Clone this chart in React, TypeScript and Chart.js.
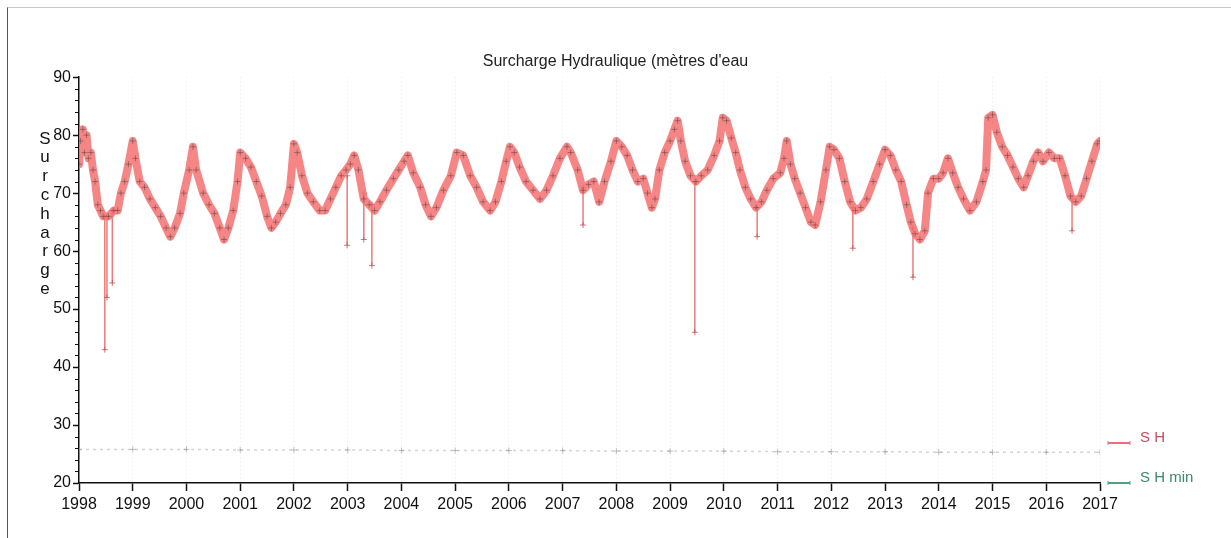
import { useEffect, useRef } from "react";
import { Chart, registerables } from "chart.js";

Chart.register(...registerables);

const titleText = "Surcharge Hydraulique (mètres d'eau";
const yAxisLetters = ["S", "u", "r", "c", "h", "a", "r", "g", "e"];
const legendLabels = ["S H", "S H min"];
const legendTextColors = ["#c0505e", "#3b8a6a"];
const legendLineColors = ["#e8707a", "#4f9f80"];

const xTickYears = [1998, 1999, 2000, 2001, 2002, 2003, 2004, 2005, 2006, 2007, 2008, 2009, 2010, 2011, 2012, 2013, 2014, 2015, 2016, 2017];
const yTickValues = [20, 30, 40, 50, 60, 70, 80, 90];

const shYears = [
  1998.0, 1998.03, 1998.07, 1998.1, 1998.14, 1998.18, 1998.22, 1998.26, 1998.3, 1998.35, 1998.4, 1998.45, 1998.55, 1998.65, 1998.72, 1998.78, 1998.85, 1998.92,
  1999.0, 1999.05, 1999.13, 1999.22, 1999.32, 1999.42, 1999.52, 1999.62, 1999.7, 1999.78, 1999.88, 1999.95,
  2000.05, 2000.12, 2000.18, 2000.31, 2000.42, 2000.52, 2000.62, 2000.7, 2000.78, 2000.87, 2000.95,
  2001.0, 2001.1, 2001.2, 2001.3, 2001.4, 2001.5, 2001.58, 2001.66, 2001.75, 2001.85, 2001.93,
  2002.0, 2002.06, 2002.15, 2002.25, 2002.36, 2002.48, 2002.58, 2002.68, 2002.78, 2002.88, 2002.97,
  2003.05, 2003.12, 2003.2, 2003.3, 2003.4, 2003.5, 2003.6, 2003.72, 2003.85, 2003.95,
  2004.05, 2004.12, 2004.22, 2004.35, 2004.45, 2004.55, 2004.65, 2004.78, 2004.92,
  2005.03, 2005.15, 2005.28, 2005.4, 2005.52, 2005.65, 2005.75, 2005.86, 2005.95,
  2006.02, 2006.1, 2006.2, 2006.32, 2006.45, 2006.58, 2006.7, 2006.82, 2006.95,
  2007.08, 2007.15, 2007.28, 2007.38, 2007.48, 2007.58, 2007.68, 2007.78, 2007.9,
  2008.0, 2008.1, 2008.2, 2008.3, 2008.4, 2008.5, 2008.58, 2008.66, 2008.72, 2008.8, 2008.9,
  2009.0, 2009.08, 2009.14, 2009.2, 2009.28, 2009.38, 2009.48, 2009.58, 2009.7, 2009.82, 2009.92, 2009.98,
  2010.05, 2010.14, 2010.22, 2010.3, 2010.4, 2010.5, 2010.6, 2010.7, 2010.8, 2010.92,
  2011.05, 2011.12, 2011.17, 2011.24, 2011.32, 2011.42, 2011.52, 2011.62, 2011.7, 2011.8, 2011.9, 2011.97,
  2012.05, 2012.15, 2012.25, 2012.35, 2012.45, 2012.55, 2012.66, 2012.78, 2012.9,
  2013.0, 2013.1, 2013.2, 2013.3, 2013.4, 2013.48, 2013.56, 2013.65, 2013.74, 2013.8, 2013.9,
  2014.0, 2014.08, 2014.17, 2014.26, 2014.36, 2014.46, 2014.58, 2014.7, 2014.82, 2014.88, 2014.92,
  2015.0, 2015.08, 2015.18, 2015.28, 2015.38, 2015.48, 2015.58, 2015.66, 2015.76, 2015.85, 2015.94,
  2016.05, 2016.15, 2016.25, 2016.35, 2016.45, 2016.55, 2016.65, 2016.75, 2016.85, 2016.95, 2017.0,
];

const shValues = [
  75, 79, 81, 77, 80, 76, 77, 74, 72, 68, 67, 66, 66, 67, 67, 70, 72, 75,
  79, 76, 72, 71, 69, 67.5, 66, 64, 62.5, 64, 66.5, 70,
  74, 78, 74, 70, 68, 66.5, 64, 62, 64, 67, 72,
  77, 76, 74.5, 72, 69.5, 66, 64, 65, 66.5, 68, 71,
  78.5, 77, 73, 70, 68.5, 67, 67, 69, 71, 73, 74,
  75, 76.5, 74, 69, 68, 67, 68.5, 70.5, 72.5, 74,
  75.5, 76.5, 73.5, 71, 68, 66, 67.5, 70.5, 73,
  77, 76.5, 73, 71, 68.5, 67, 68.5, 72, 75.5,
  78, 77, 74.5, 72, 70.5, 69, 70.5, 73, 76,
  78, 77, 74, 70.5, 71.5, 72, 68.5, 72, 75.5,
  79, 78, 76.5, 74, 72, 72.5, 70, 67.5, 69, 74, 77,
  79, 81, 82.5, 79, 75.5, 73, 72, 73, 74, 76.5, 79, 83,
  82.5, 79.5, 77, 74, 71, 69, 67.5, 68.5, 70.5, 72.5,
  73.5, 76, 79, 75, 72.5, 70, 67.5, 65, 64.5, 68.5, 74, 78,
  77.5, 76, 72, 68.5, 67, 67.5, 69, 72, 75,
  77.5, 76.5, 74, 72, 68, 65, 63, 62, 63.5, 70, 72.5,
  72.5, 73.5, 76, 73.5, 71, 69, 67, 68.5, 72, 74, 83,
  83.5, 80.5, 78, 76.5, 74.5, 72.5, 71, 73, 75.5, 77, 75.5,
  77, 76, 76, 73, 69.5, 68.5, 69.5, 72.5, 75.5, 78.5, 79,
];

const spikeYears = [1998.48, 1998.52, 1998.62, 2002.99, 2003.3, 2003.45, 2007.38, 2009.46, 2010.62, 2012.4, 2013.52, 2016.48];
const spikeBase = [66, 66, 67, 73, 70, 68, 71, 72, 67.5, 67.5, 64, 69];
const spikeLow = [43, 52, 54.5, 61, 62, 57.5, 64.5, 46, 62.5, 60.5, 55.5, 63.5];

const shMinYears = xTickYears;
const shMinValues = [25.8, 25.8, 25.8, 25.7, 25.7, 25.7, 25.6, 25.6, 25.6, 25.6, 25.5, 25.5, 25.5, 25.4, 25.4, 25.4, 25.3, 25.3, 25.3, 25.3];

const FONT = "'Liberation Sans', Arial, sans-serif";

export default function App() {
  const canvasRef = useRef<HTMLCanvasElement | null>(null);

  useEffect(() => {
    if (!canvasRef.current) return;
    Chart.defaults.font.family = FONT;

    const spikeData: any[] = [];
    spikeYears.forEach((yr, i) => {
      spikeData.push({ x: yr, y: spikeBase[i] });
      spikeData.push({ x: yr, y: spikeLow[i] });
      spikeData.push({ x: yr, y: null });
    });

    const extras = {
      id: "extras",
      afterDraw(chart: any) {
        const ctx = chart.ctx;
        const ys = chart.scales.y;
        const area = chart.chartArea;
        ctx.save();
        // minor ticks on the y axis
        ctx.strokeStyle = "#111";
        ctx.lineWidth = 1;
        for (let v = ys.min; v <= ys.max; v += 2) {
          if (v % 10 === 0) continue;
          const py = Math.round(ys.getPixelForValue(v)) + 0.5;
          ctx.beginPath();
          ctx.moveTo(area.left - 4, py);
          ctx.lineTo(area.left, py);
          ctx.stroke();
        }
        // stacked y axis title
        ctx.fillStyle = "#111";
        ctx.font = `17px ${FONT}`;
        ctx.textAlign = "center";
        ctx.textBaseline = "middle";
        yAxisLetters.forEach((ch, i) => {
          ctx.fillText(ch, 45, 139 + i * 18.8);
        });
        // legend
        ctx.font = `15px ${FONT}`;
        ctx.textAlign = "left";
        legendLabels.forEach((lab, i) => {
          const ly = 443 + i * 40;
          ctx.strokeStyle = legendLineColors[i];
          ctx.lineWidth = 2;
          ctx.beginPath();
          ctx.moveTo(area.right + 8, ly);
          ctx.lineTo(area.right + 30, ly);
          ctx.stroke();
          ctx.lineWidth = 1;
          ctx.beginPath();
          ctx.moveTo(area.right + 8, ly - 2);
          ctx.lineTo(area.right + 8, ly + 2);
          ctx.moveTo(area.right + 30, ly - 2);
          ctx.lineTo(area.right + 30, ly + 2);
          ctx.stroke();
          ctx.fillStyle = legendTextColors[i];
          ctx.fillText(lab, area.right + 40, ly - 5);
        });
        ctx.restore();
      },
    };

    const chart = new Chart(canvasRef.current, {
      type: "line",
      data: {
        datasets: [
          {
            label: legendLabels[0],
            data: shYears.map((x, i) => ({ x, y: shValues[i] })),
            borderColor: "rgba(244, 112, 112, 0.85)",
            borderWidth: 8,
            borderJoinStyle: "round",
            borderCapStyle: "round",
            pointStyle: "cross",
            pointRadius: 3,
            pointBorderColor: "rgba(90, 60, 60, 0.5)",
            pointBorderWidth: 1,
            tension: 0,
          },
          {
            label: "spikes",
            data: spikeData,
            borderColor: "rgba(230, 100, 100, 0.85)",
            borderWidth: 1.5,
            pointStyle: "cross",
            pointRadius: 3,
            pointBorderColor: "rgba(200, 80, 80, 0.8)",
            pointBorderWidth: 1,
            spanGaps: false,
          },
          {
            label: legendLabels[1],
            data: shMinYears.map((x, i) => ({ x, y: shMinValues[i] })),
            borderColor: "rgba(160, 160, 160, 0.45)",
            borderWidth: 1.5,
            borderDash: [3, 4],
            pointStyle: "cross",
            pointRadius: 3,
            pointBorderColor: "rgba(150, 150, 150, 0.6)",
            pointBorderWidth: 1,
          },
        ],
      },
      options: {
        animation: false,
        responsive: false,
        layout: { padding: { left: 0, right: 0, top: 42, bottom: 8 } },
        plugins: {
          tooltip: { enabled: false },
          legend: { display: false },
          title: {
            display: true,
            text: titleText,
            color: "#222",
            font: { size: 16, weight: "normal", family: FONT },
            padding: { top: 10, bottom: 6 },
          },
        },
        scales: {
          x: {
            type: "linear",
            min: xTickYears[0],
            max: xTickYears[xTickYears.length - 1],
            afterBuildTicks: (scale: any) => {
              scale.ticks = xTickYears.map((v) => ({ value: v }));
            },
            afterFit: (scale: any) => {
              scale.height = 47;
            },
            ticks: {
              autoSkip: false,
              maxRotation: 0,
              color: "#111",
              padding: 4,
              font: { size: 16, family: FONT },
              callback: (v: any) => String(v),
            },
            grid: {
              color: "rgba(0,0,0,0.09)",
              lineWidth: 1,
              tickLength: 8,
              tickColor: "#111",
              tickWidth: 1.5,
            },
            border: { display: true, color: "#111", width: 1.5, dash: [1, 3] },
          },
          y: {
            type: "linear",
            min: yTickValues[0],
            max: yTickValues[yTickValues.length - 1],
            afterBuildTicks: (scale: any) => {
              scale.ticks = yTickValues.map((v) => ({ value: v }));
            },
            afterFit: (scale: any) => {
              scale.width = 79;
            },
            ticks: {
              color: "#111",
              padding: 2,
              font: { size: 16, family: FONT },
            },
            grid: {
              drawOnChartArea: false,
              tickLength: 6,
              tickColor: "#111",
              tickWidth: 1.5,
            },
            border: { display: true, color: "#111", width: 1.5 },
          },
          legendSpace: {
            type: "linear",
            position: "right",
            display: true,
            min: 0,
            max: 1,
            afterFit: (scale: any) => {
              scale.width = 131;
            },
            ticks: { display: false },
            grid: { display: false, drawOnChartArea: false, drawTicks: false },
            border: { display: false },
          },
        },
      },
      plugins: [extras],
    } as any);

    return () => chart.destroy();
  }, []);

  return (
    <div style={{ position: "fixed", left: 0, top: 0, width: 1231, height: 538, background: "#fff" }}>
      <div style={{ position: "absolute", left: 7, top: 7, width: 1224, height: 531, borderTop: "1px solid #c8c8c8", borderLeft: "1px solid #555" }} />
      <canvas ref={canvasRef} width={1231} height={538} style={{ position: "absolute", left: 0, top: 0, width: 1231, height: 538 }} />
    </div>
  );
}
